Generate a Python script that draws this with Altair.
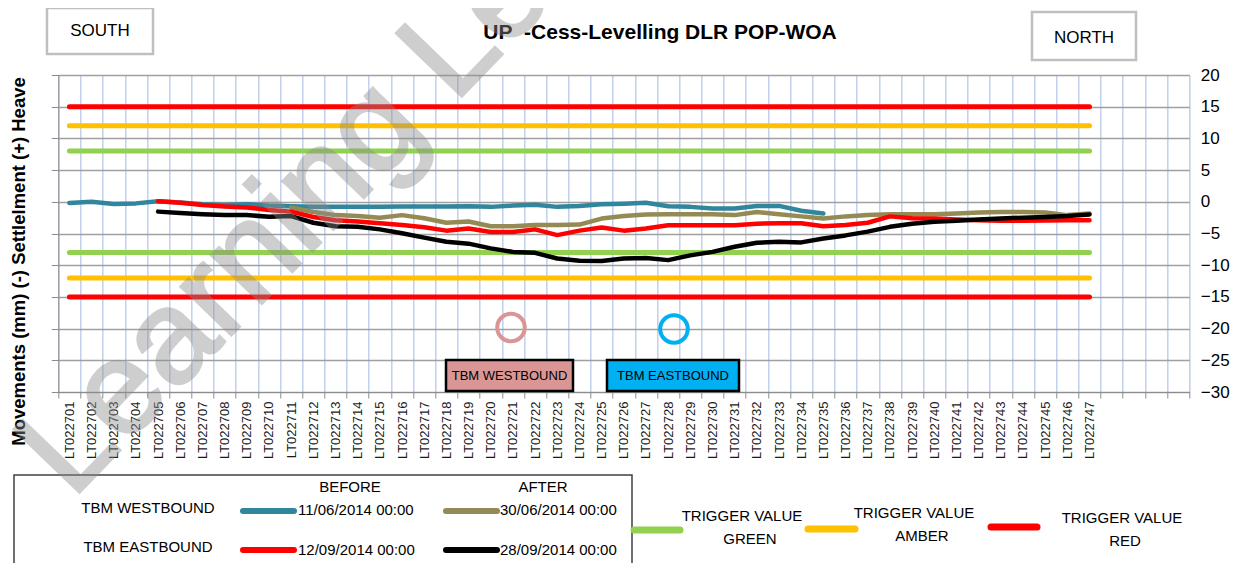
import altair as alt
import pandas as pd

# ---------------- data ----------------
categories = [f"LT0227{i:02d}" for i in range(1, 48)]
spare_slots = ["_48", "_49", "_50", "_51"]          # empty category slots on the right
y_ticks = [-30, -25, -20, -15, -10, -5, 0, 5, 10, 15, 20]

N = None
wb_before = [-0.2, 0.0, -0.35, -0.25, 0.1, -0.1, -0.4, -0.5, -0.4, -0.6,
             -0.7, -0.8, -0.8, -0.8, -0.8, -0.75, -0.75, -0.75, -0.7, -0.8,
             -0.6, -0.45, -0.8, -0.65, -0.4, -0.3, -0.15, -0.7, -0.8, -1.05,
             -1.05, -0.65, -0.65, -1.4, -1.85, N, N, N, N, N,
             N, N, N, N, N, N, N]
wb_after = [N, N, N, N, N, N, N, N, N, N,
            -0.9, -1.6, -2.1, -2.25, -2.5, -2.1, -2.6, -3.3, -3.1, -3.85,
            -3.85, -3.65, -3.65, -3.6, -2.65, -2.25, -2.0, -1.95, -1.95, -1.95,
            -2.1, -1.6, -1.95, -2.3, -2.65, -2.3, -2.1, -1.95, -1.95, -1.95,
            -1.85, -1.7, -1.6, -1.6, -1.7, -2.1, -1.85]
eb_before = [N, N, N, N, 0.1, -0.15, -0.5, -0.75, -0.9, -1.3,
             -1.55, -2.4, -2.9, -3.1, -3.4, -3.65, -4.0, -4.55, -4.2, -4.75,
             -4.75, -4.35, -5.25, -4.55, -4.05, -4.55, -4.2, -3.7, -3.7, -3.7,
             -3.7, -3.45, -3.4, -3.4, -3.85, -3.65, -3.3, -2.3, -2.6, -2.65,
             -2.8, -2.9, -3.0, -3.0, -2.95, -2.9, -2.9]
eb_after = [N, N, N, N, -1.55, -1.75, -1.95, -2.1, -2.1, -2.35,
            -2.25, -3.3, -3.85, -3.95, -4.35, -4.95, -5.65, -6.3, -6.6, -7.35,
            -7.9, -8.05, -8.95, -9.3, -9.35, -8.95, -8.85, -9.2, -8.45, -7.9,
            -7.1, -6.45, -6.3, -6.4, -5.8, -5.3, -4.7, -3.95, -3.45, -3.15,
            -3.0, -2.8, -2.65, -2.5, -2.4, -2.25, -2.0]

series_names = ["11/06/2014 00:00", "30/06/2014 00:00", "12/09/2014 00:00", "28/09/2014 00:00"]
series_values = [wb_before, wb_after, eb_before, eb_after]
series_colors = ["#31859c", "#948a54", "#ff0000", "#000000"]

trigger_levels = [15, 12, 8, -8, -12, -15]
trigger_keys = ["red+", "amber+", "green+", "green-", "amber-", "red-"]
trigger_colors = ["#ff0000", "#ffc000", "#92d050", "#92d050", "#ffc000", "#ff0000"]

# ---------------- styling helpers ----------------
FONT = "Liberation Sans, Arial, sans-serif"
OX, OY = 58.3, 75.0          # page position of plot origin
W, H = 1131, 317


def px(x):
    return x - OX


def py(y):
    return y - OY


one = pd.DataFrame({"k": [0]})

xscale = alt.Scale(type="band", domain=categories + spare_slots, paddingInner=0, paddingOuter=0)
yscale = alt.Scale(domain=[-30, 20], nice=False, zero=False)

xaxis = alt.Axis(
    title=None, labelAngle=-90, tickBand="extent", grid=True,
    gridColor="#c3d3ee", gridWidth=1.6, domainColor="#8c8c8c", tickColor="#8c8c8c",
    tickSize=6, labelFont=FONT, labelFontSize=13, labelColor="#1a1a1a", labelPadding=3,
    labelExpr="indexof(datum.label, 'LT') == 0 ? datum.label : ''",
)

left_axis = alt.Axis(
    orient="left", values=y_ticks, labels=False, tickSize=7, tickColor="#8c8c8c",
    domainColor="#8c8c8c", grid=True, gridColor="#a0a0a0", gridWidth=1.3,
    title="Movements (mm) (-) Settlelment (+) Heave", titleFont=FONT, titleFontSize=18.5,
    titleFontWeight="bold", titleColor="#000000", titleAngle=270, titleAlign="center",
    titleBaseline="middle", titleX=px(18), titleY=py(261),
)
right_axis = alt.Axis(
    orient="right", values=y_ticks, ticks=False, domain=False, grid=False,
    labelFont=FONT, labelFontSize=17, labelColor="#000000", labelPadding=11, title=None,
)

# ---------------- trigger lines ----------------
trig_rows = []
for lvl, key in zip(trigger_levels, trigger_keys):
    for c in (categories[0], categories[-1]):
        trig_rows.append({"cat": c, "v": lvl, "key": key})
trig_df = pd.DataFrame(trig_rows)

triggers = alt.Chart(trig_df).mark_line(strokeWidth=5, strokeCap="round").encode(
    x=alt.X("cat:O", scale=xscale, axis=xaxis, bandPosition=0.5, sort=None),
    y=alt.Y("v:Q", scale=yscale, axis=left_axis),
    color=alt.Color("key:N", scale=alt.Scale(domain=trigger_keys, range=trigger_colors), legend=None),
    detail="key:N",
)

# ---------------- series lines ----------------
series_layers = []
for i, (name, vals, col) in enumerate(zip(series_names, series_values, series_colors)):
    d = pd.DataFrame({"cat": categories, "v": vals, "s": name}).dropna()
    ax = right_axis if i == 0 else None
    series_layers.append(
        alt.Chart(d).mark_line(color=col, strokeWidth=4.5, strokeCap="round", strokeJoin="round").encode(
            x=alt.X("cat:O", scale=xscale, axis=xaxis, bandPosition=0.5, sort=None),
            y=alt.Y("v:Q", scale=yscale, axis=ax),
        )
    )


# ---------------- annotations ----------------
def text(s, x, y, size=15, weight="normal", align="center", color="#000000", baseline="middle"):
    return alt.Chart(one).mark_text(
        text=s, fontSize=size, fontWeight=weight, align=align, baseline=baseline,
        color=color, font=FONT,
    ).encode(x=alt.value(px(x)), y=alt.value(py(y)))


def box(x1, y1, x2, y2, fill, stroke, sw, fill_opacity=1):
    return alt.Chart(one).mark_rect(fill=fill, fillOpacity=fill_opacity, stroke=stroke, strokeWidth=sw).encode(
        x=alt.value(px(x1)), x2=alt.value(px(x2)), y=alt.value(py(y1)), y2=alt.value(py(y2))
    )


def swatch(x1, x2, y, color, w):
    return alt.Chart(one).mark_rule(color=color, strokeWidth=w, strokeCap="round").encode(
        x=alt.value(px(x1)), x2=alt.value(px(x2)), y=alt.value(py(y))
    )


def ring(x, y, color):
    return alt.Chart(one).mark_point(shape="circle", filled=False, size=760, strokeWidth=4, color=color, opacity=1).encode(
        x=alt.value(px(x)), y=alt.value(py(y))
    )


PINK = "#d99694"
CYAN = "#00b0f0"

annots = [
    box(47, 8, 153, 54, "white", "#bfbfbf", 2.5),
    text("SOUTH", 100, 31, size=17),
    box(1032, 12, 1136, 60, "white", "#bfbfbf", 2.5),
    text("NORTH", 1084, 38, size=17),
    text("UP\u00a0 -Cess-Levelling DLR POP-WOA", 660, 33, size=21, weight="bold"),
    ring(511, 327.5, PINK),
    ring(674, 329, CYAN),
    box(446, 360, 573, 391, PINK, "#000000", 2.5),
    text("TBM WESTBOUND", 509.5, 376, size=13),
    box(607, 360, 739, 391, CYAN, "#000000", 2.5),
    text("TBM EASTBOUND", 673, 376, size=13),
    # legend block
    box(14, 475, 632, 610, "white", "#404040", 1.5, fill_opacity=0),
    text("BEFORE", 350, 487),
    text("AFTER", 543, 487),
    text("TBM WESTBOUND", 148, 508),
    text("TBM EASTBOUND", 148, 547),
    swatch(243, 294, 511, series_colors[0], 6),
    text(series_names[0], 298, 510, align="left"),
    swatch(446, 497, 511, series_colors[1], 6),
    text(series_names[1], 500, 510, align="left"),
    swatch(243, 294, 550, series_colors[2], 6),
    text(series_names[2], 298, 550, align="left"),
    swatch(446, 497, 550, series_colors[3], 6),
    text(series_names[3], 500, 550, align="left"),
    swatch(634, 680, 530, "#92d050", 7),
    text("TRIGGER VALUE", 742, 516),
    text("GREEN", 750, 539),
    swatch(808, 855, 529, "#ffc000", 7),
    text("TRIGGER VALUE", 914, 513),
    text("AMBER", 922, 536),
    swatch(991, 1037, 527, "#ff0000", 7),
    text("TRIGGER VALUE", 1122, 518),
    text("RED", 1125, 541),
]

watermark = alt.Chart(one).mark_text(
    text="Learning Lessons", fontSize=132, angle=314, align="left", baseline="alphabetic",
    color="#8c8c8c", stroke="#8c8c8c", strokeWidth=3, opacity=0.42, font=FONT,
).encode(x=alt.value(px(72)), y=alt.value(py(500)))

chart = alt.layer(triggers, *series_layers, *annots, watermark).resolve_axis(
    y="independent"
).properties(
    width=W, height=H,
    autosize=alt.AutoSizeParams(type="none"),
    padding={"left": OX - 8, "top": OY - 8, "right": 1238 - 16 - W - (OX - 8), "bottom": 563 - 8 - H - (OY - 8)},
).configure_view(stroke=None).configure(background="white")

chart.save("out.html", embed_options={"renderer": "svg", "actions": False})
